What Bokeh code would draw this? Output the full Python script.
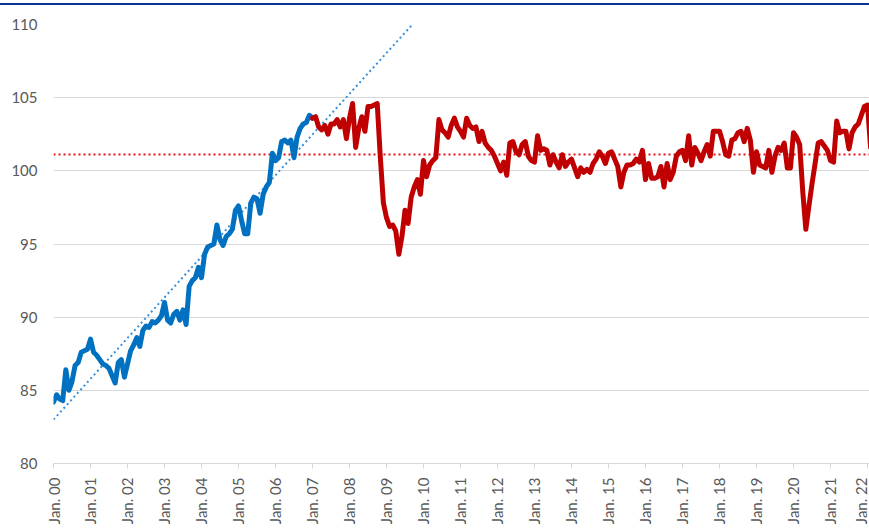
import math
from bokeh.plotting import figure
from bokeh.models import Range1d, Span, FixedTicker, Div, ColumnDataSource
from bokeh.layouts import column
from bokeh.embed import file_html
from bokeh.resources import INLINE

# ---------------- data ----------------
tick_labels = ["Jan. 00", "Jan. 01", "Jan. 02", "Jan. 03", "Jan. 04", "Jan. 05",
               "Jan. 06", "Jan. 07", "Jan. 08", "Jan. 09", "Jan. 10", "Jan. 11",
               "Jan. 12", "Jan. 13", "Jan. 14", "Jan. 15", "Jan. 16", "Jan. 17",
               "Jan. 18", "Jan. 19", "Jan. 20", "Jan. 21", "Jan. 22"]
tick_months = [12 * i for i in range(len(tick_labels))]
y_ticks = [80, 85, 90, 95, 100, 105, 110]

# monthly index, first month = Jan. 00
blue_start = 0
blue_values = [
    84.2, 84.7, 84.4, 84.3, 86.4, 85.0, 85.6, 86.7, 86.9, 87.6, 87.7, 87.8,
    88.5, 87.6, 87.4, 87.1, 86.8, 86.7, 86.5, 86.0, 85.5, 86.9, 87.1, 85.9,
    86.8, 87.7, 88.1, 88.6, 88.0, 89.1, 89.4, 89.3, 89.7, 89.6, 89.8, 90.1,
    91.0, 89.8, 89.6, 90.2, 90.4, 89.8, 90.5, 89.5, 92.1, 92.5, 92.7, 93.4,
    92.7, 94.3, 94.8, 94.9, 95.0, 96.3, 95.3, 94.9, 95.5, 95.7, 96.0, 97.3,
    97.6, 96.6, 95.7, 95.7, 97.8, 98.2, 98.1, 97.1, 98.4, 98.9, 99.2, 101.2,
    100.7, 100.9, 102.0, 102.1, 101.9, 102.1, 100.9, 102.3, 102.9, 103.2, 103.3, 103.8,
    103.6,
]

red_start = 84
red_values = [
    103.6, 103.7, 103.0, 102.8, 103.1, 102.5, 103.2, 103.2, 103.5, 103.0, 103.5, 102.2,
    103.6, 104.6, 101.6, 102.9, 103.7, 102.7, 104.4, 104.4, 104.5, 104.6, 100.9, 97.8,
    96.8, 96.2, 96.3, 95.9, 94.3, 95.5, 97.3, 96.4, 98.2, 98.9, 99.4, 98.4,
    100.7, 99.6, 100.4, 100.7, 100.9, 103.5, 102.8, 102.6, 102.3, 103.1, 103.6, 103.0,
    102.7, 102.3, 103.6, 103.1, 102.9, 103.0, 102.0, 102.7, 101.9, 101.6, 101.4, 101.0,
    100.5, 100.0, 100.6, 99.7, 101.9, 102.0, 101.3, 101.1, 101.8, 102.0, 101.0, 100.7,
    100.6, 102.4, 101.4, 101.5, 101.4, 100.4, 101.1, 100.6, 100.2, 101.1, 100.3, 100.6,
    100.8, 100.2, 99.6, 100.2, 99.9, 100.1, 99.9, 100.5, 100.8, 101.3, 101.0, 100.5,
    101.2, 101.3, 100.8, 100.3, 98.9, 99.9, 100.4, 100.4, 100.5, 100.8, 100.6, 101.4,
    99.4, 100.5, 99.5, 99.5, 99.6, 100.3, 98.9, 100.5, 99.4, 99.9, 101.0, 101.3,
    101.4, 100.7, 102.4, 100.4, 101.6, 101.2, 100.7, 101.3, 101.8, 101.0, 102.7, 102.7,
    102.7, 102.0, 101.1, 101.0, 102.1, 102.2, 102.6, 102.7, 102.0, 102.9, 102.1, 99.9,
    101.3, 100.4, 100.3, 100.2, 101.4, 99.9, 101.0, 101.6, 101.4, 101.9, 100.2, 100.2,
    102.6, 102.3, 101.8, 98.6, 96.0, 97.6, 99.1, 100.5, 101.9, 102.0, 101.7, 101.4,
    100.7, 100.6, 103.4, 102.6, 102.7, 102.7, 101.5, 102.6, 103.0, 103.2, 103.8, 104.4,
    104.5, 101.6,
]

trend_months = [0, 116.4]
trend_values = [83.0, 110.0]
average_level = 101.12

# ---------------- styles ----------------
BLUE = "#0070C0"
RED = "#C00000"
TREND = "#3A8FDB"
AVG = "#E8101A"
GRID = "#D9D9D9"
LABEL = "#595959"
FONT = "Lato"

blue_src = ColumnDataSource(dict(
    x=[blue_start + i for i in range(len(blue_values))], y=blue_values))
red_src = ColumnDataSource(dict(
    x=[red_start + i for i in range(len(red_values))], y=red_values))

p = figure(width=869, height=526,
           x_range=Range1d(0, 264.65), y_range=Range1d(80, 110),
           output_backend="svg", toolbar_location=None,
           min_border_left=53, min_border_right=0,
           min_border_top=19, min_border_bottom=68)
p.outline_line_color = None
p.background_fill_color = "white"
p.border_fill_color = "white"

p.xgrid.grid_line_color = None
p.ygrid.grid_line_color = GRID
p.ygrid.grid_line_width = 1
p.ygrid.ticker = FixedTicker(ticks=y_ticks)

p.yaxis.ticker = FixedTicker(ticks=y_ticks)
p.yaxis.axis_line_color = None
p.yaxis.major_tick_line_color = None
p.yaxis.minor_tick_line_color = None
p.yaxis.major_tick_in = 0
p.yaxis.major_tick_out = 0
p.yaxis.minor_tick_in = 0
p.yaxis.minor_tick_out = 0
p.yaxis.major_label_standoff = 16
p.yaxis.major_label_text_font = FONT
p.yaxis.major_label_text_font_size = "15px"
p.yaxis.major_label_text_color = LABEL

p.xaxis.ticker = FixedTicker(ticks=tick_months)
p.xaxis.major_label_overrides = {m: lab for m, lab in zip(tick_months, tick_labels)}
p.xaxis.major_label_orientation = math.pi / 2
p.xaxis.axis_line_color = GRID
p.xaxis.axis_line_width = 1
p.xaxis.major_tick_line_color = GRID
p.xaxis.major_tick_in = 0
p.xaxis.major_tick_out = 5
p.xaxis.minor_tick_line_color = None
p.xaxis.minor_tick_in = 0
p.xaxis.minor_tick_out = 0
p.xaxis.major_label_standoff = 9
p.xaxis.major_label_text_font = FONT
p.xaxis.major_label_text_font_size = "15px"
p.xaxis.major_label_text_color = LABEL

# dotted reference lines (under the series)
p.line(trend_months, trend_values, line_color=TREND, line_width=2,
       line_dash="2 3")
avg = Span(location=average_level, dimension="width", line_color=AVG,
           line_width=2, line_dash="2 3", level="underlay")
p.add_layout(avg)

p.line("x", "y", source=blue_src, line_color=BLUE, line_width=5,
       line_join="round", line_cap="round")
p.line("x", "y", source=red_src, line_color=RED, line_width=5,
       line_join="round", line_cap="round")

top_rule = Div(text="", width=869, height=5, margin=(0, 0, 0, 0),
               styles={"background": "linear-gradient(to bottom, #FFFFFF 0px, #FFFFFF 3px, #0B3591 3px, #0B3591 5px)"})

layout = column(top_rule, p, spacing=0)

open("out.html", "w").write(file_html(layout, INLINE))
